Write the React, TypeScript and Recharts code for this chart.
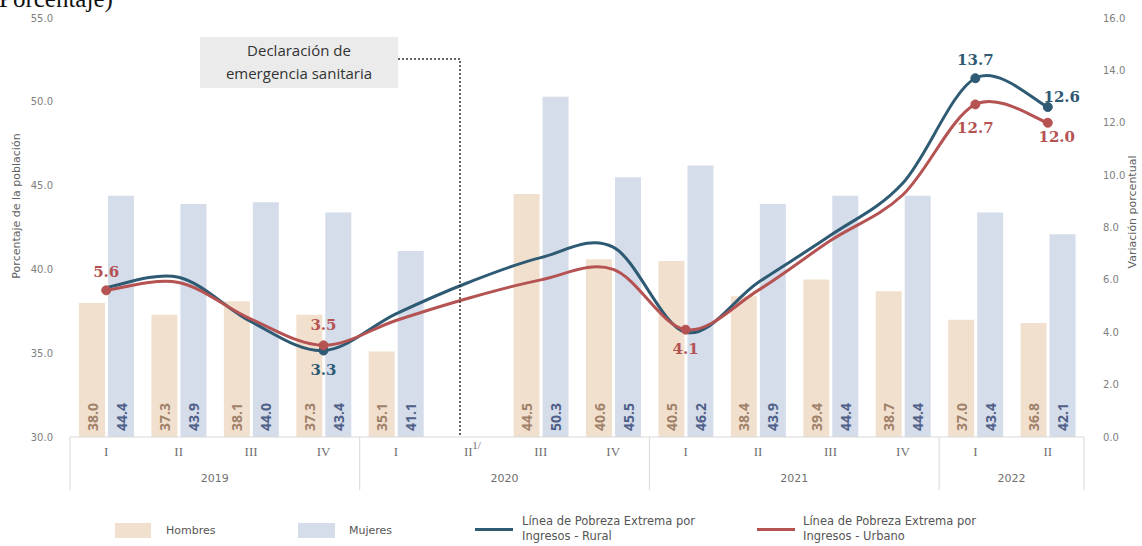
import React from 'react';
import { ComposedChart, Bar, Line, XAxis, YAxis, LabelList } from 'recharts';

// ---------- data ----------
const ids = ['2019-I', '2019-II', '2019-III', '2019-IV', '2020-I', '2020-II', '2020-III', '2020-IV', '2021-I', '2021-II', '2021-III', '2021-IV', '2022-I', '2022-II'];
const quarterLabels = ['I', 'II', 'III', 'IV', 'I', 'II', 'III', 'IV', 'I', 'II', 'III', 'IV', 'I', 'II'];
const yearLabels = ['2019', '2020', '2021', '2022'];
const yearCounts = [4, 4, 4, 2];
const hombres: (number | null)[] = [38.0, 37.3, 38.1, 37.3, 35.1, null, 44.5, 40.6, 40.5, 38.4, 39.4, 38.7, 37.0, 36.8];
const mujeres: (number | null)[] = [44.4, 43.9, 44.0, 43.4, 41.1, null, 50.3, 45.5, 46.2, 43.9, 44.4, 44.4, 43.4, 42.1];
const rural = [5.7, 6.1, 4.4, 3.3, 4.7, 5.9, 6.85, 7.25, 4.0, 5.9, 7.7, 9.7, 13.7, 12.6];
const urbano = [5.6, 5.9, 4.5, 3.5, 4.45, 5.3, 6.0, 6.4, 4.1, 5.6, 7.5, 9.25, 12.7, 12.0];
const leftTicks = [30, 35, 40, 45, 50, 55];
const rightTicks = [0, 2, 4, 6, 8, 10, 12, 14, 16];

// which points carry a marker + label, and where the label sits (style only)
const ruralLabelPos: Record<number, [number, number]> = { 3: [0, 19], 12: [0, -18], 13: [14, -10] };
const urbanoLabelPos: Record<number, [number, number]> = { 0: [0, -18], 3: [0, -20], 8: [0, 19], 12: [0, 24], 13: [9, 14] };

const data = ids.map((id, i) => ({
  id,
  h: hombres[i],
  m: mujeres[i],
  r: rural[i],
  u: urbano[i],
}));

// ---------- layout ----------
const W = 1142;
const H = 546;
const LEFT_W = 70;
const RIGHT_W = 58;
const TOP = 18;
const AXIS_Y = 437;
const XAXIS_H = 60;
const PLOT_W = W - LEFT_W - RIGHT_W;
const BW = PLOT_W / ids.length;

const C_H = '#f2e0cf';
const C_M = '#d5dcea';
const C_R = '#2e5a73';
const C_U = '#b55252';
const GRID = '#d9d9d9';
const TICK = '#808080';

// Excel-like smoothing (Catmull-Rom through the points)
function excelSmooth(context: any) {
  let pts: [number, number][] = [];
  return {
    areaStart() {},
    areaEnd() {},
    lineStart() {
      pts = [];
    },
    point(x: number, y: number) {
      pts.push([+x, +y]);
    },
    lineEnd() {
      const n = pts.length;
      if (!n) return;
      context.moveTo(pts[0][0], pts[0][1]);
      for (let i = 0; i < n - 1; i++) {
        const p0 = pts[i - 1] || pts[i];
        const p1 = pts[i];
        const p2 = pts[i + 1];
        const p3 = pts[i + 2] || p2;
        context.bezierCurveTo(
          p1[0] + (p2[0] - p0[0]) / 6,
          p1[1] + (p2[1] - p0[1]) / 6,
          p2[0] - (p3[0] - p1[0]) / 6,
          p2[1] - (p3[1] - p1[1]) / 6,
          p2[0],
          p2[1]
        );
      }
    },
  };
}

const groupStarts: number[] = [];
{
  let s = 0;
  yearCounts.forEach((c) => {
    groupStarts.push(s);
    s += c;
  });
}

function QuarterTick(props: any) {
  const { x, y, payload } = props;
  const i = payload && payload.index != null ? payload.index : props.index;
  const g = groupStarts.indexOf(i);
  const last = i === ids.length - 1;
  return (
    <g>
      <text x={x} y={y + 19} textAnchor="middle" fontFamily="Liberation Serif" fontSize={13} fill="#707070">
        {quarterLabels[i]}
      </text>
      {i === 5 && (
        <text x={x + 4} y={y + 12} fontFamily="Liberation Serif" fontSize={11} fill="#707070">
          1/
        </text>
      )}
      {g >= 0 && (
        <>
          <line x1={x - BW / 2} x2={x - BW / 2} y1={y} y2={y + 53} stroke={GRID} strokeWidth={1} />
          <text
            x={x - BW / 2 + (yearCounts[g] * BW) / 2}
            y={y + 45}
            textAnchor="middle"
            fontFamily="DejaVu Sans"
            fontSize={11}
            fill="#707070"
          >
            {yearLabels[g]}
          </text>
        </>
      )}
      {last && <line x1={x + BW / 2} x2={x + BW / 2} y1={y} y2={y + 53} stroke={GRID} strokeWidth={1} />}
    </g>
  );
}

const makeBarLabel = (color: string) => (p: any) => {
  const vb = p.viewBox || {};
  const x = p.x != null ? p.x : vb.x;
  const y = p.y != null ? p.y : vb.y;
  const width = p.width != null ? p.width : vb.width;
  const height = p.height != null ? p.height : vb.height;
  const value = p.value;
  if (value == null || x == null) return null;
  const cx = x + width / 2;
  const by = y + height - 6;
  return (
    <text
      x={cx}
      y={by}
      transform={`rotate(-90 ${cx} ${by})`}
      textAnchor="start"
      dominantBaseline="central"
      fill={color}
      fontFamily="Open Sans"
      fontWeight={700}
      fontSize={14}
    >
      {Number(value).toFixed(1)}
    </text>
  );
};

const makeDot = (color: string, pos: Record<number, [number, number]>) => (p: any) => {
  const { cx, cy, index } = p;
  if (!(index in pos) || cx == null) return <g key={`d${index}`} />;
  return <circle key={`d${index}`} cx={cx} cy={cy} r={4.5} fill={color} stroke={color} />;
};

const makeLineLabel = (color: string, pos: Record<number, [number, number]>) => (p: any) => {
  const { x, y, index, value } = p;
  if (!(index in pos) || x == null) return null;
  const [dx, dy] = pos[index];
  return (
    <text
      x={x + dx}
      y={y + dy}
      textAnchor="middle"
      dominantBaseline="central"
      fill={color}
      fontFamily="DejaVu Serif"
      fontWeight={700}
      fontSize={15}
    >
      {Number(value).toFixed(1)}
    </text>
  );
};

export default function App() {
  return (
    <div style={{ position: 'absolute', left: 0, top: 0, width: W, height: H, background: '#fff', overflow: 'hidden' }}>
      <ComposedChart
        width={W}
        height={H}
        data={data}
        margin={{ top: TOP, right: 0, bottom: H - AXIS_Y - XAXIS_H, left: 0 }}
        barGap={3}
      >
        <XAxis
          dataKey="id"
          interval={0}
          tickLine={false}
          tickSize={0}
          tickMargin={0}
          height={XAXIS_H}
          axisLine={{ stroke: GRID }}
          tick={<QuarterTick />}
        />
        <YAxis
          yAxisId="left"
          domain={[30, 55]}
          ticks={leftTicks}
          width={LEFT_W}
          axisLine={false}
          tickLine={false}
          tickSize={0}
          tickMargin={17}
          tickFormatter={(v: number) => v.toFixed(1)}
          tick={{ fill: TICK, fontSize: 10, fontFamily: 'DejaVu Sans' }}
        />
        <YAxis
          yAxisId="right"
          orientation="right"
          domain={[0, 16]}
          ticks={rightTicks}
          width={RIGHT_W}
          axisLine={false}
          tickLine={false}
          tickSize={0}
          tickMargin={19}
          tickFormatter={(v: number) => v.toFixed(1)}
          tick={{ fill: TICK, fontSize: 10, fontFamily: 'DejaVu Sans' }}
        />
        <Bar yAxisId="left" dataKey="h" fill={C_H} barSize={26} isAnimationActive={false}>
          <LabelList dataKey="h" content={makeBarLabel('#a0826a')} />
        </Bar>
        <Bar yAxisId="left" dataKey="m" fill={C_M} barSize={26} isAnimationActive={false}>
          <LabelList dataKey="m" content={makeBarLabel('#4f6088')} />
        </Bar>
        <Line
          yAxisId="right"
          dataKey="r"
          type={excelSmooth as any}
          stroke={C_R}
          strokeWidth={3}
          dot={makeDot(C_R, ruralLabelPos)}
          activeDot={false}
          isAnimationActive={false}
        >
          <LabelList dataKey="r" content={makeLineLabel(C_R, ruralLabelPos)} />
        </Line>
        <Line
          yAxisId="right"
          dataKey="u"
          type={excelSmooth as any}
          stroke={C_U}
          strokeWidth={3}
          dot={makeDot(C_U, urbanoLabelPos)}
          activeDot={false}
          isAnimationActive={false}
        >
          <LabelList dataKey="u" content={makeLineLabel(C_U, urbanoLabelPos)} />
        </Line>
      </ComposedChart>

      {/* axis titles, annotation + page fragments */}
      <svg width={W} height={H} style={{ position: 'absolute', left: 0, top: 0, pointerEvents: 'none' }}>
        <text x={-1} y={7} fontFamily="Liberation Serif" fontSize={25} fill="#111">
          Porcentaje)
        </text>
        <text
          x={16}
          y={206}
          transform="rotate(-90 16 206)"
          textAnchor="middle"
          dominantBaseline="central"
          fontFamily="DejaVu Sans"
          fontSize={11}
          fill="#606060"
        >
          Porcentaje de la población
        </text>
        <text
          x={1132}
          y={212}
          transform="rotate(-90 1132 212)"
          textAnchor="middle"
          dominantBaseline="central"
          fontFamily="DejaVu Sans"
          fontSize={11}
          fill="#606060"
        >
          Variación porcentual
        </text>
        <rect x={200} y={37} width={198} height={51} fill="#ebebeb" />
        <text x={299} y={56} textAnchor="middle" fontFamily="Open Sans" fontSize={15} fill="#333">
          Declaración de
        </text>
        <text x={299} y={79} textAnchor="middle" fontFamily="Open Sans" fontSize={15} fill="#333">
          emergencia sanitaria
        </text>
        <polyline
          points={`398,59 460,59 460,${AXIS_Y}`}
          fill="none"
          stroke="#333"
          strokeWidth={1.5}
          strokeDasharray="2 2"
        />
      </svg>

      {/* legend */}
      <div style={{ position: 'absolute', left: 0, top: 0, width: W, height: H, fontFamily: 'DejaVu Sans', fontSize: 11, color: '#555' }}>
        <div style={{ position: 'absolute', left: 115, top: 523, width: 36, height: 15, background: C_H }} />
        <div style={{ position: 'absolute', left: 166, top: 523, lineHeight: '15px' }}>Hombres</div>
        <div style={{ position: 'absolute', left: 298, top: 523, width: 37, height: 15, background: C_M }} />
        <div style={{ position: 'absolute', left: 349, top: 523, lineHeight: '15px' }}>Mujeres</div>
        <div style={{ position: 'absolute', left: 475, top: 528, width: 38, height: 3, background: C_R }} />
        <div style={{ position: 'absolute', left: 522, top: 514, lineHeight: '15px', whiteSpace: 'nowrap', fontSize: 11.5 }}>
          Línea de Pobreza Extrema por
          <br />
          Ingresos - Rural
        </div>
        <div style={{ position: 'absolute', left: 757, top: 528, width: 38, height: 3, background: C_U }} />
        <div style={{ position: 'absolute', left: 803, top: 514, lineHeight: '15px', whiteSpace: 'nowrap', fontSize: 11.5 }}>
          Línea de Pobreza Extrema por
          <br />
          Ingresos - Urbano
        </div>
      </div>
    </div>
  );
}
